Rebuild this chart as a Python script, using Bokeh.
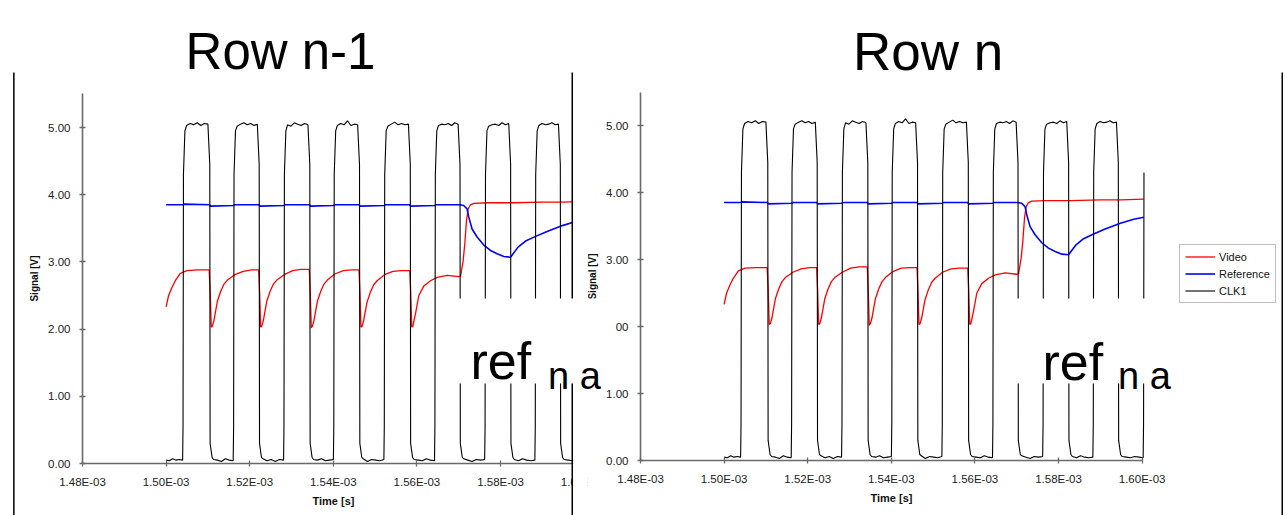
from bokeh.plotting import figure
from bokeh.models import (Range1d, FixedTicker, BoxAnnotation, Label, Legend, LegendItem, LinearAxis)
from bokeh.embed import file_html
from bokeh.resources import INLINE

# ---------------- data ----------------
chart_titles = ["Row n-1", "Row n"]
series_names = ["Video", "Reference", "CLK1"]
series_colors = ["#FF0000", "#0000FF", "#000000"]

x_tick_values_us = [1480, 1500, 1520, 1540, 1560, 1580, 1600]
x_tick_labels = ["1.48E-03", "1.50E-03", "1.52E-03", "1.54E-03", "1.56E-03", "1.58E-03", "1.60E-03"]
y_tick_values = [0, 1, 2, 3, 4, 5]
y_tick_labels = ["0.00", "1.00", "2.00", "3.00", "4.00", "5.00"]
x_axis_title = "Time [s]"
y_axis_title = "Signal [V]"
overlay_main = "ref"
overlay_sub = "n a"

# Video (red) - time in microseconds, volts
video_t_us = [1500.0, 1500.6, 1501.4, 1502.2, 1503.4, 1505.0, 1507.5, 1510.3,
              1510.55, 1510.8, 1511.05, 1511.45, 1512.25, 1513.05, 1513.85, 1514.65, 1516.45, 1518.45, 1520.45, 1522.15,
              1522.37, 1522.62, 1522.87, 1523.27, 1524.07, 1524.87, 1525.67, 1526.47, 1528.27, 1530.27, 1532.27, 1534.25,
              1534.48, 1534.73, 1534.98, 1535.38, 1536.18, 1536.98, 1537.78, 1538.58, 1540.38, 1542.38, 1544.38, 1546.15,
              1546.37, 1546.62, 1546.87, 1547.27, 1548.07, 1548.87, 1549.67, 1550.47, 1552.27, 1554.27, 1556.27, 1558.3,
              1558.52, 1558.77, 1559.02, 1559.67, 1560.46, 1561.65, 1563.25, 1564.86, 1567.25, 1570.0,
              1570.45, 1571.07, 1571.46, 1571.87, 1572.27, 1572.82, 1573.6, 1577.0, 1583.0, 1590.0, 1595.0, 1600.4]
video_v = [2.33, 2.50, 2.62, 2.72, 2.83, 2.87, 2.88, 2.88,
           2.55, 2.03, 2.04, 2.13, 2.41, 2.56, 2.67, 2.73, 2.81, 2.86, 2.88, 2.88,
           2.55, 2.03, 2.04, 2.13, 2.41, 2.56, 2.67, 2.73, 2.81, 2.87, 2.89, 2.89,
           2.55, 2.02, 2.04, 2.13, 2.41, 2.56, 2.67, 2.73, 2.82, 2.87, 2.88, 2.88,
           2.55, 2.03, 2.04, 2.13, 2.40, 2.55, 2.66, 2.72, 2.81, 2.86, 2.87, 2.87,
           2.55, 2.03, 2.04, 2.23, 2.50, 2.64, 2.72, 2.77, 2.80, 2.78,
           2.79, 3.02, 3.27, 3.62, 3.79, 3.85, 3.87, 3.88, 3.88, 3.89, 3.89, 3.90]

# Reference (blue)
reference_t_us = [1500.0, 1504.1, 1504.3, 1510.4, 1510.6, 1516.2, 1516.4, 1522.2, 1522.4, 1528.2, 1528.4,
                  1534.3, 1534.5, 1540.1, 1540.3, 1546.2, 1546.4, 1552.2, 1552.4, 1558.3, 1558.5, 1564.3,
                  1564.5, 1570.3, 1571.2, 1572.0, 1572.4, 1573.2, 1574.4, 1576.0, 1577.6, 1579.2, 1580.8,
                  1582.4, 1584.2, 1586.0, 1588.4, 1591.0, 1594.8, 1598.0, 1600.4]
reference_v = [3.85, 3.85, 3.86, 3.85, 3.83, 3.84, 3.85, 3.85, 3.83, 3.84, 3.85,
               3.85, 3.83, 3.84, 3.85, 3.85, 3.83, 3.84, 3.85, 3.85, 3.83, 3.84,
               3.85, 3.85, 3.84, 3.79, 3.67, 3.49, 3.37, 3.25, 3.17, 3.12, 3.08,
               3.07, 3.22, 3.31, 3.38, 3.45, 3.54, 3.60, 3.63]

# CLK1 (black): edge times and plateau levels
clk_start_us = 1500.0
clk_rise_us = [1504.1, 1516.2, 1528.25, 1540.17, 1552.25, 1564.36, 1576.36, 1588.37, 1600.4]
clk_fall_us = [1510.45, 1522.27, 1534.38, 1546.27, 1558.42, 1570.31, 1582.42, 1594.31]
clk_high_v = [[5.03, 5.06, 5.04, 5.07, 5.03, 5.06, 5.05],
              [5.02, 5.05, 5.07, 5.04, 5.06, 5.03, 5.05],
              [5.04, 5.02, 5.07, 5.05, 5.03, 5.06, 5.04],
              [5.03, 5.06, 5.04, 5.10, 5.03, 5.05, 5.04],
              [5.02, 5.05, 5.08, 5.04, 5.06, 5.04, 5.05],
              [5.03, 5.05, 5.04, 5.06, 5.03, 5.07, 5.05],
              [5.02, 5.04, 5.05, 5.03, 5.07, 5.04, 5.06],
              [5.03, 5.06, 5.04, 5.05, 5.07, 5.04, 5.05]]
clk_low_v = [[0.05, 0.04, 0.07, 0.05, 0.06, 0.05],
             [0.06, 0.05, 0.03, 0.07, 0.05, 0.04],
             [0.07, 0.04, 0.06, 0.03, 0.06, 0.05],
             [0.06, 0.05, 0.07, 0.04, 0.05, 0.06],
             [0.07, 0.03, 0.06, 0.05, 0.04, 0.06],
             [0.06, 0.05, 0.04, 0.07, 0.05, 0.04],
             [0.07, 0.05, 0.03, 0.06, 0.05, 0.06],
             [0.06, 0.04, 0.07, 0.05, 0.04, 0.05],
             [0.06, 0.05, 0.04, 0.06, 0.05, 0.04]]


def build_clk():
    ts, vs = [], []

    def plateau(t0, t1, vals):
        n = len(vals)
        for i, v in enumerate(vals):
            ts.append(t0 + (t1 - t0) * i / (n - 1))
            vs.append(v)

    plateau(clk_start_us, clk_rise_us[0] - 0.15, clk_low_v[0])
    for k, tr in enumerate(clk_rise_us):
        if k == len(clk_rise_us) - 1:
            ts += [tr - 0.05, tr + 0.05]
            vs += [0.55, 4.3]
            break
        ts += [tr - 0.05, tr + 0.05, tr + 0.4]
        vs += [0.55, 4.3, 4.95]
        tf = clk_fall_us[k]
        plateau(tr + 0.8, tf - 0.45, clk_high_v[k])
        ts += [tf, tf + 0.08, tf + 0.55]
        vs += [4.45, 0.3, 0.09]
        plateau(tf + 0.9, clk_rise_us[k + 1] - 0.15, clk_low_v[k + 1])
    return [t * 1e-6 for t in ts], vs


clk_t, clk_v = build_clk()
video_t = [t * 1e-6 for t in video_t_us]
reference_t = [t * 1e-6 for t in reference_t_us]
x_ticks = [t * 1e-6 for t in x_tick_values_us]

# ---------------- geometry (page pixels) ----------------
FONT = "Liberation Sans"
W, H = 1285, 515
PX_PER_S = 83.6 / 20e-6
X0 = x_ticks[0]


def xL(px): return X0 + (px - 82) / PX_PER_S       # left chart: 1.48E-03 at x=82
def yL(py): return (463 - py) / 67.2                # left chart: 0.00 at y=463
def xR(px): return X0 + (px - 640) / PX_PER_S      # right chart: 1.48E-03 at x=640
def yR(py): return (460 - py) / 67.0                # right chart: 0.00 at y=460


p = figure(width=W, height=H, x_range=Range1d(xL(0), xL(W)), y_range=Range1d(yL(H), yL(0)),
           output_backend="svg", toolbar_location=None, min_border=0)
p.extra_x_ranges = {"right": Range1d(xR(0), xR(W))}
p.extra_y_ranges = {"right": Range1d(yR(H), yR(0))}
p.grid.visible = False
p.outline_line_color = None
p.background_fill_color = "white"
p.border_fill_color = "white"

xa2 = LinearAxis(x_range_name="right", y_range_name="right")
ya2 = LinearAxis(x_range_name="right", y_range_name="right")
p.add_layout(xa2, "below")
p.add_layout(ya2, "left")

for xa in (p.xaxis[0], xa2):
    xa.fixed_location = 0
    xa.ticker = FixedTicker(ticks=x_ticks, minor_ticks=[])
    xa.major_label_overrides = dict(zip(x_ticks, x_tick_labels))
    xa.bounds = (x_ticks[0], x_ticks[-1])
    xa.axis_label = x_axis_title
    xa.axis_label_text_font_size = "11px"
    xa.axis_label_standoff = 4
    xa.major_label_standoff = 9
for ya in (p.yaxis[0], ya2):
    ya.fixed_location = X0
    ya.ticker = FixedTicker(ticks=y_tick_values, minor_ticks=[])
    ya.major_label_overrides = dict(zip(y_tick_values, y_tick_labels))
    ya.bounds = (0, 5.5)
    ya.axis_label = y_axis_title
    ya.axis_label_text_font_size = "10px"
    ya.axis_label_standoff = 5
    ya.major_label_standoff = 9
for ax in (p.xaxis[0], xa2, p.yaxis[0], ya2):
    ax.axis_line_color = "#6a6a6a"
    ax.axis_line_width = 1.6
    ax.major_tick_line_color = "#6a6a6a"
    ax.major_tick_line_width = 1.3
    ax.major_tick_in = 3
    ax.major_tick_out = 3
    ax.minor_tick_line_color = None
    ax.major_label_text_font = FONT
    ax.major_label_text_font_size = "11.5px"
    ax.major_label_text_color = "#222222"
    ax.axis_label_text_font = FONT
    ax.axis_label_text_font_style = "bold"
    ax.axis_label_text_color = "#111111"

# data: left chart (Row n-1) and right chart (Row n)
for rng in ("default", "right"):
    kw = {} if rng == "default" else dict(x_range_name="right", y_range_name="right")
    rv = p.line(video_t, video_v, line_color=series_colors[0], line_width=1.3, **kw)
    rr = p.line(reference_t, reference_v, line_color=series_colors[1], line_width=1.6, **kw)
    rc = p.line(clk_t, clk_v, line_color=series_colors[2], line_width=1.1, **kw)


def box(l, r, t, b, color):
    p.add_layout(BoxAnnotation(left=xL(l), right=xL(r), top=yL(t), bottom=yL(b), fill_color=color,
                               fill_alpha=1.0, line_color=None))


def label(x, y, text, size, align="left"):
    p.add_layout(Label(x=xL(x), y=yL(y), text=text, text_font=FONT, text_font_size=size,
                       text_align=align, text_baseline="alphabetic", text_color="black"))


# the left picture is cut at its right edge
box(572.6, 587.2, 60, 515, "white")
box(587, 612, 466, 494, "white")
# frame lines of the two pictures
box(12.6, 14.1, 72, 515, "black")
box(571.0, 572.5, 72, 515, "black")
box(1281.0, 1282.5, 72, 515, "black")

legend = Legend(items=[LegendItem(label=series_names[0], renderers=[rv]),
                       LegendItem(label=series_names[1], renderers=[rr]),
                       LegendItem(label=series_names[2], renderers=[rc])],
                location=(1179, H - 303), orientation="vertical",
                border_line_color="#808080", border_line_width=1.5, background_fill_color="white",
                background_fill_alpha=1.0, padding=5, spacing=4, margin=0,
                label_text_font=FONT, label_text_font_size="11px", label_text_color="#111111",
                label_height=13, glyph_height=13, glyph_width=30, label_standoff=4)
p.add_layout(legend)

# overlay boxes with text
box(456, 615, 298, 383, "white")
box(1010, 1187, 298, 383, "white")
label(280, 51, chart_titles[0], "51px", align="center")
label(927.5, 51, chart_titles[1], "53px", align="center")
label(470, 360, overlay_main, "52px")
label(547.5, 375, overlay_sub, "38px")
label(1042, 361, overlay_main, "52px")
label(1117.5, 375, overlay_sub, "38px")

open("out.html", "w").write(file_html(p, INLINE))
